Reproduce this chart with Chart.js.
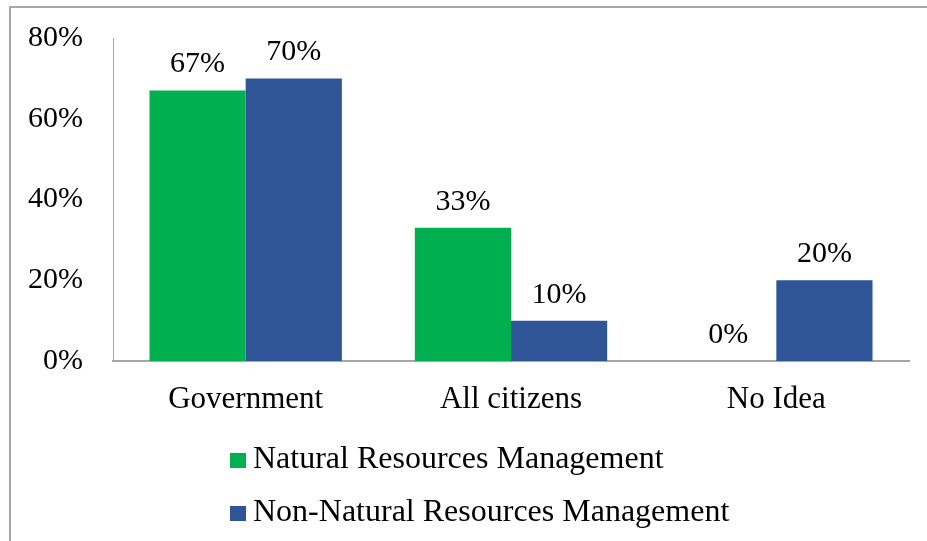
<!DOCTYPE html>
<html>
<head>
<meta charset="utf-8">
<script src="https://cdn.jsdelivr.net/npm/chart.js@4"></script>
<style>
  html, body { margin: 0; padding: 0; background: #fff; overflow: hidden; }
  .wrap { position: relative; width: 927px; height: 541px; }
  .frame { position: absolute; left: 9px; top: 6px; width: 1000px; height: 1000px;
           border-left: 2px solid #a6a6a6; border-top: 2px solid #a6a6a6; pointer-events: none; }
  canvas { position: absolute; left: 0; top: 0; }
  .legend { position: absolute; left: 230px; top: 431px; font-family: 'Liberation Serif', 'Times New Roman', serif;
            font-size: 32px; color: #000; }
  .legend .item { display: flex; align-items: center; height: 53px; }
  .legend .box { width: 16px; height: 15px; margin-right: 7px; margin-top: 6px; }
</style>
</head>
<body>
<div class="wrap">
  <canvas id="chart" width="927" height="541"></canvas>
  <div class="frame"></div>
  <div class="legend" id="legend"></div>
</div>
<script>
// data
const categories = ['Government', 'All citizens', 'No Idea'];
const seriesNames = ['Natural Resources Management', 'Non-Natural Resources Management'];
const nrmValues = [67, 33, 0];
const nonNrmValues = [70, 10, 20];
const yTicks = [0, 20, 40, 60, 80];
const colors = ['#00B050', '#2F5597'];

const fontFamily = "'Liberation Serif', 'Times New Roman', serif";
Chart.defaults.font.family = fontFamily;
Chart.defaults.font.size = 30;
Chart.defaults.color = '#000';

// labels above each bar
const barLabels = {
  id: 'barLabels',
  afterDatasetsDraw(chart) {
    const ctx = chart.ctx;
    ctx.save();
    ctx.font = '30px ' + fontFamily;
    ctx.fillStyle = '#000';
    ctx.textAlign = 'center';
    ctx.textBaseline = 'alphabetic';
    chart.data.datasets.forEach((ds, i) => {
      chart.getDatasetMeta(i).data.forEach((bar, j) => {
        ctx.fillText(ds.data[j] + '%', bar.x, bar.y - 18);
      });
    });
    ctx.restore();
  }
};

const ctx = document.getElementById('chart').getContext('2d');
const chart = new Chart(ctx, {
  type: 'bar',
  data: {
    labels: categories,
    datasets: [
      { label: seriesNames[0], data: nrmValues, backgroundColor: colors[0] },
      { label: seriesNames[1], data: nonNrmValues, backgroundColor: colors[1] }
    ]
  },
  options: {
    responsive: false,
    animation: false,
    devicePixelRatio: 1,
    layout: { padding: { left: 0, right: 18, top: 38, bottom: 0 } },
    datasets: { bar: { categoryPercentage: 0.725, barPercentage: 1 } },
    plugins: { legend: { display: false }, tooltip: { enabled: false } },
    scales: {
      x: {
        grid: { display: false, drawTicks: false },
        border: { display: true, color: '#a6a6a6', width: 2 },
        ticks: { padding: 20, maxRotation: 0, font: { size: 31 } },
        afterFit(scale) { scale.height = 180; }
      },
      y: {
        min: 0,
        max: 80,
        grid: { display: false, drawTicks: false },
        border: { display: true, color: '#a6a6a6', width: 1 },
        afterBuildTicks(scale) { scale.ticks = yTicks.map(v => ({ value: v })); },
        ticks: { padding: 30, callback: v => v + '%' },
        afterFit(scale) {
          scale.width = 113;
          // tick padding should only push labels sideways
          scale.paddingTop = 18;
          scale.paddingBottom = 18;
        }
      }
    }
  },
  plugins: [barLabels]
});

// legend, stacked like the original
const legend = document.getElementById('legend');
seriesNames.forEach((name, i) => {
  const item = document.createElement('div');
  item.className = 'item';
  const box = document.createElement('span');
  box.className = 'box';
  box.style.background = colors[i];
  const txt = document.createElement('span');
  txt.textContent = name;
  item.appendChild(box);
  item.appendChild(txt);
  legend.appendChild(item);
});
</script>
</body>
</html>
